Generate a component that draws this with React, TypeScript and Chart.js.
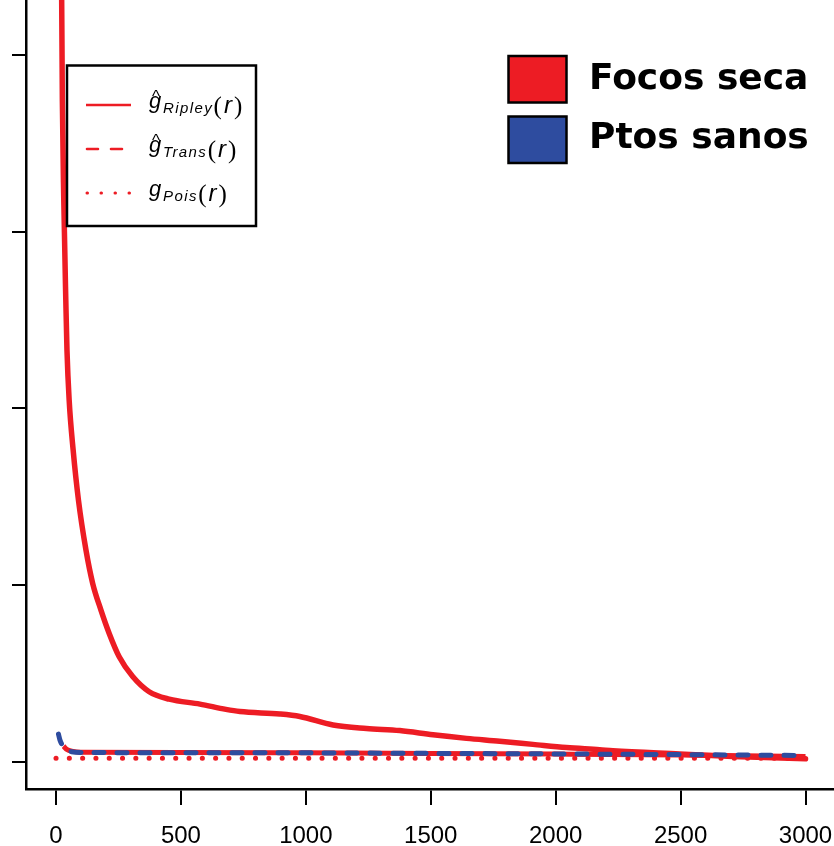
import React, { useEffect, useRef } from "react";
import { Chart, registerables } from "chart.js";

Chart.register(...registerables);

// ---- data ----
const xTicks = [0, 500, 1000, 1500, 2000, 2500, 3000];
const yTicks = [0, 50, 100, 150, 200];

// Focos seca: Ripley estimate (big red curve)
const focosR = [18, 22.8, 25.5, 31.2, 39.3, 44, 52.7, 68.7, 90, 120, 146.8, 180, 213, 253, 307, 373, 453, 576, 680, 736, 896, 976, 1109, 1243, 1376, 1509, 1643, 1776, 1909, 2043, 2176, 2229, 2496, 2709, 3000];
const focosG = [290, 215.6, 187, 159, 130.7, 116.5, 102.4, 88.2, 74, 59.9, 50.5, 42.9, 36.3, 29.7, 24.1, 19.8, 17.7, 16.3, 14.8, 14.2, 13.5, 12.8, 10.4, 9.4, 8.8, 7.6, 6.6, 5.8, 4.9, 4.0, 3.4, 3.1, 2.2, 1.5, 0.8];

// Ptos sanos: red solid low curve
const sanosRedR = [30, 45, 63, 100, 500, 1000, 1500, 2000, 2500, 3000];
const sanosRedG = [4.4, 3.4, 3.0, 2.7, 2.6, 2.5, 2.35, 2.15, 1.9, 1.5];

// Ptos sanos: blue dashed curve
const sanosR = [10, 16, 36, 63, 100, 500, 1000, 1500, 2000, 2500, 3000];
const sanosG = [7.8, 6.1, 3.7, 2.8, 2.6, 2.55, 2.5, 2.35, 2.2, 2.0, 1.75];

// Poisson reference g = 1
const poisR = [0, 3000];
const poisG = [1, 1];

const legendSubs = ["Ripley", "Trans", "Pois"];
const legendHats = [true, true, false];
const groupLabels = ["Focos seca", "Ptos sanos"];

const RED = "#ED1C24";
const BLUE = "#2E4C9F";

const pts = (xs: number[], ys: number[]) => xs.map((x, i) => ({ x, y: ys[i] }));

const legendPlugin = {
  id: "customLegends",
  afterDraw(chart: any) {
    const ctx: CanvasRenderingContext2D = chart.ctx;
    ctx.save();
    // ---- legend 1 (line types) ----
    ctx.fillStyle = "#fff";
    ctx.fillRect(67, 65.5, 189, 160.5);
    ctx.lineWidth = 2.5;
    ctx.strokeStyle = "#000";
    ctx.strokeRect(67, 65.5, 189, 160.5);

    const rowY = [105, 149, 193];
    const dashes = [[], [11, 13], [0.5, 13.5]];
    const widths = [2.4, 2.6, 3];
    const caps: CanvasLineCap[] = ["butt", "round", "round"];
    rowY.forEach((y, i) => {
      ctx.save();
      ctx.strokeStyle = RED;
      ctx.lineWidth = widths[i];
      ctx.lineCap = caps[i];
      ctx.setLineDash(dashes[i]);
      ctx.beginPath();
      ctx.moveTo(i === 0 ? 86 : 87, y);
      ctx.lineTo(131, y);
      ctx.stroke();
      ctx.restore();

      const base = y + 8;
      ctx.fillStyle = "#000";
      ctx.textBaseline = "alphabetic";
      ctx.textAlign = "left";
      // g
      ctx.font = "italic 22px 'Liberation Sans'";
      ctx.fillText("g", 149, base - 5);
      if (legendHats[i]) {
        ctx.font = "17px 'Liberation Sans'";
        ctx.fillText("^", 152, base - 11);
      }
      // subscript
      let x = 163;
      ctx.font = "italic 15px 'Liberation Sans'";
      (ctx as any).letterSpacing = "1.4px";
      ctx.fillText(legendSubs[i], x, base);
      x += ctx.measureText(legendSubs[i]).width + 0.5;
      (ctx as any).letterSpacing = "0px";
      // (r)
      ctx.font = "25px 'Liberation Serif'";
      ctx.fillText("(", x, base + 1);
      x += ctx.measureText("(").width + 2;
      ctx.font = "italic 24px 'Liberation Sans'";
      ctx.fillText("r", x, base);
      x += ctx.measureText("r").width + 2;
      ctx.font = "25px 'Liberation Serif'";
      ctx.fillText(")", x, base + 1);
    });

    // ---- legend 2 (groups) ----
    const boxes = [
      { y: 56, c: RED },
      { y: 116.5, c: BLUE },
    ];
    const textBase = [89.3, 148.3];
    boxes.forEach((b, i) => {
      ctx.fillStyle = b.c;
      ctx.fillRect(508.5, b.y, 58, 46.5);
      ctx.lineWidth = 2.5;
      ctx.strokeStyle = "#000";
      ctx.strokeRect(508.5, b.y, 58, 46.5);
      ctx.fillStyle = "#000";
      ctx.font = "bold 36px 'DejaVu Sans'";
      ctx.fillText(groupLabels[i], 589, textBase[i]);
    });
    ctx.restore();
  },
};

export default function App() {
  const canvasRef = useRef<HTMLCanvasElement | null>(null);

  useEffect(() => {
    document.body.style.margin = "0";
    const canvas = canvasRef.current;
    if (!canvas) return;
    const chart = new Chart(canvas, {
      type: "line",
      data: {
        datasets: [
          {
            label: "Ptos sanos (trans)",
            data: pts(sanosR, sanosG),
            borderColor: BLUE,
            borderWidth: 5,
            borderDash: [10, 13],
            borderCapStyle: "round",
            pointRadius: 0,
            cubicInterpolationMode: "monotone",
            fill: false,
          },
          {
            label: "Ptos sanos (ripley)",
            data: pts(sanosRedR, sanosRedG),
            borderColor: RED,
            borderWidth: 5,
            pointRadius: 0,
            cubicInterpolationMode: "monotone",
            fill: false,
          },
          {
            label: "Focos seca (ripley)",
            data: pts(focosR, focosG),
            borderColor: RED,
            borderWidth: 5.5,
            borderCapStyle: "round",
            pointRadius: 0,
            cubicInterpolationMode: "monotone",
            fill: false,
          },
          {
            label: "Pois",
            data: pts(poisR, poisG),
            borderColor: RED,
            borderWidth: 5,
            borderDash: [0.1, 13.2],
            borderCapStyle: "round",
            pointRadius: 0,
            fill: false,
          },
        ],
      },
      options: {
        responsive: false,
        animation: false,
        devicePixelRatio: 1,
        parsing: false as any,
        layout: { padding: { left: 12, top: 0, right: 0, bottom: 0 } },
        plugins: {
          legend: { display: false },
          tooltip: { enabled: false },
        },
        scales: {
          x: {
            type: "linear",
            min: -120,
            max: 3114,
            afterBuildTicks: (s: any) => {
              s.ticks = xTicks.map((v) => ({ value: v }));
            },
            afterFit: (s: any) => {
              s.height = 57;
              s.paddingLeft = 0;
              s.paddingRight = 0;
            },
            grid: {
              drawOnChartArea: false,
              drawTicks: true,
              tickLength: 16,
              color: "#000",
              lineWidth: 2,
            },
            border: { display: true, color: "#000", width: 2.5 },
            ticks: {
              color: "#000",
              font: { family: "'Liberation Sans'", size: 24 },
              padding: 17,
              maxRotation: 0,
              autoSkip: false,
              callback: (v: any) => String(v),
            },
          },
          y: {
            type: "linear",
            min: -7.73,
            max: 215.6,
            afterBuildTicks: (s: any) => {
              s.ticks = yTicks.map((v) => ({ value: v }));
            },
            afterFit: (s: any) => {
              s.width = 14;
              s.paddingTop = 0;
              s.paddingBottom = 0;
            },
            grid: {
              drawOnChartArea: false,
              drawTicks: true,
              tickLength: 14,
              color: "#000",
              lineWidth: 2,
            },
            border: { display: true, color: "#000", width: 2.5 },
            ticks: { display: false },
          },
        },
      },
      plugins: [legendPlugin],
    });
    return () => chart.destroy();
  }, []);

  return (
    <div style={{ position: "relative", width: 834, height: 846, background: "#fff" }}>
      <canvas ref={canvasRef} width={834} height={846} style={{ display: "block" }} />
    </div>
  );
}
